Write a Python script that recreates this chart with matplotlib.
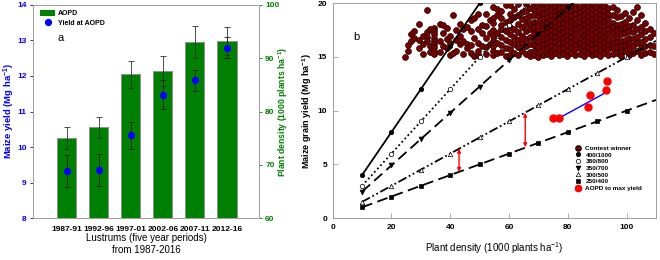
import matplotlib
matplotlib.use("Agg")
import matplotlib.pyplot as plt
from matplotlib.lines import Line2D
from matplotlib.patches import Patch
import numpy as np

plt.rcParams["font.family"] = ["Liberation Sans", "DejaVu Sans"]
plt.rcParams["mathtext.default"] = "regular"

# ── panel a data ──────────────────────────────────────────────────────────────
periods   = ["1987-91", "1992-96", "1997-01", "2002-06", "2007-11", "2012-16"]
aopd      = [75.0, 77.0, 87.0, 87.6, 93.0, 93.2]
aopd_err  = [2.0, 2.0, 2.5, 2.8, 3.0, 2.6]
yield_a   = [9.32, 9.36, 10.33, 11.47, 11.88, 12.80]
yield_err = [0.46, 0.45, 0.38, 0.41, 0.30, 0.30]

# ── panel b data ──────────────────────────────────────────────────────────────
line_names   = ["400/1000", "380/800", "350/700", "300/500", "250/400"]
line_density = [10, 20, 30, 40, 50, 60, 70, 80, 90, 100, 110]
line_yields  = {
    "400/1000": [4.0, 8.0, 12.0, 16.0, 20.0],
    "380/800":  [3.0, 6.0, 9.0, 12.0, 15.0, 18.0, 21.0],
    "350/700":  [2.45, 4.9, 7.35, 9.8, 12.25, 14.7, 17.15, 19.6, 22.05],
    "300/500":  [1.5, 3.0, 4.5, 6.0, 7.5, 9.0, 10.5, 12.0, 13.5, 15.0, 16.5],
    "250/400":  [1.0, 2.0, 3.0, 4.0, 5.0, 6.0, 7.0, 8.0, 9.0, 10.0, 11.0],
}
fit_density = [76.5, 93.5]
fit_yield   = [9.23, 11.77]
gap_density = [43.0, 65.5]
gap_low     = [4.30, 6.60]
gap_high    = [6.45, 9.80]

# contest winners, by density column: yields (Mg/ha)
winner_cols = [
    (24.6, "15.0"), (25.5, "15.6 16.1"), (26.6, "16.5 17.1"), (27.8, "16.8 17.4"),
    (29.5, "18.1 16.6 15.8"), (30.6, "15.3 16.2 17.0"), (32.0, "19.4 17.3 16.9 16.5"),
    (33.2, "15.5 16.0 17.6"), (34.5, "17.7 17.4 17.1 16.8 16.5 16.2 15.9 15.6 15.3"),
    (36.4, "18.1 16.5 15.5"), (37.6, "17.2 16.0 18.0"), (38.8, "17.7 16.7 15.8"),
    (39.8, "17.0 16.3 15.2"), (40.8, "18.9 15.4"), (42.0, "17.5 16.6 15.6"),
    (43.2, "18.1 17.0 16.2"), (44.5, "16.5 15.3 17.6"), (45.6, "17.8 16.2 15.8"),
    (47.0, "17.4 15.4 16.1 18.4"), (48.2, "18.6 16.8 15.1"),
    (49.5, "17.6 16.3 15.2 15.6 19.0"), (50.8, "16.0 17.2 18.0"),
    (52.2, "19.0 17.9 16.8 15.9 15.3"), (53.5, "18.4 17.2 16.2"),
    (54.6, "19.7 18.6 18.2 17.5 17.0 16.5 16.0 15.6 15.2"),
    (56.0, "18.9 17.2 16.3 15.4 19.5"), (57.4, "19.3 18.6 18.0 17.6 16.9 16.1 15.5"),
    (58.8, "18.3 17.4 16.6 15.8 15.1 19.8"),
    (60.2, "19.8 19.0 18.4 17.8 17.1 16.4 15.7 15.2"),
    (61.6, "19.5 18.7 17.6 16.9 16.2 15.4"),
    (63.0, "19.9 18.9 18.1 17.3 16.6 15.9 15.2"),
    (64.4, "19.2 18.5 17.8 17.0 16.3 15.6"),
    (65.8, "19.9 19.3 18.6 18.1 17.4 16.7 16.0 15.3"),
    (67.2, "19.6 18.8 18.2 17.6 16.9 16.2 15.5 15.1"),
    (68.6, "19.9 19.4 18.9 18.3 17.8 17.2 16.7 16.1 15.6 15.2"),
    (70.0, "19.8 19.3 18.8 18.3 17.9 17.4 16.9 16.4 15.9 15.4 15.0"),
    (71.4, "19.9 19.5 19.0 18.5 18.0 17.6 17.1 16.6 16.1 15.7 15.2"),
    (72.8, "19.7 19.2 18.7 18.2 17.8 17.3 16.8 16.3 15.8 15.3"),
    (74.2, "19.9 19.4 18.9 18.4 18.0 17.5 17.0 16.5 16.0 15.5 15.1"),
    (75.6, "19.8 19.3 18.8 18.3 17.8 17.3 16.9 16.4 15.9 15.4"),
    (77.0, "19.9 19.5 19.0 18.5 18.1 17.6 17.1 16.6 16.2 15.7 15.2"),
    (78.4, "19.7 19.2 18.7 18.2 17.7 17.3 16.8 16.3 15.8 15.3"),
    (79.8, "19.9 19.4 18.9 18.5 18.0 17.5 17.0 16.6 16.1 15.6 15.1"),
    (81.2, "19.8 19.3 18.8 18.3 17.9 17.4 16.9 16.4 15.9 15.4"),
    (82.6, "19.9 19.5 19.0 18.5 18.0 17.6 17.1 16.6 16.1 15.7 15.2"),
    (84.0, "19.7 19.2 18.7 18.2 17.8 17.3 16.8 16.3 15.8 15.3"),
    (85.4, "19.9 19.4 18.9 18.4 18.0 17.5 17.0 16.5 16.0 15.5 15.1"),
    (86.8, "19.8 19.3 18.8 18.3 17.8 17.3 16.9 16.4 15.9 15.4"),
    (88.2, "19.9 19.5 19.0 18.5 18.1 17.6 17.1 16.6 16.2 15.7 15.2"),
    (89.6, "19.7 19.2 18.7 18.2 17.7 17.3 16.8 16.3 15.8 15.3"),
    (91.0, "19.9 19.4 18.9 18.5 18.0 17.5 17.0 16.6 16.1 15.6 15.1"),
    (92.4, "19.8 19.3 18.8 18.3 17.9 17.4 16.9 16.4 15.9 15.4"),
    (93.8, "19.6 19.0 18.5 18.0 17.6 17.1 16.6 16.1 15.7 15.2"),
    (95.2, "19.7 18.9 18.2 17.8 17.3 16.8 16.3 15.8 15.3"),
    (96.6, "19.4 18.7 18.0 17.5 17.0 16.4 15.9 15.4"),
    (98.0, "18.8 18.1 17.6 17.1 16.5 16.0 15.5 15.1"),
    (99.4, "19.1 18.3 17.7 17.2 16.6 16.1 15.6"),
    (100.8, "18.6 17.9 17.4 16.8 16.2 15.7 15.2"),
    (102.2, "19.2 18.0 17.3 16.7 16.0 15.4"),
    (103.6, "19.7 18.4 17.6 16.9 16.3 15.6"),
    (105.0, "18.9 17.8 17.1 16.4 15.8 15.2"),
    (106.4, "18.2 17.4 16.7 16.0 15.4"),
    (107.8, "17.6 16.9 16.1 15.5"),
    (109.2, "17.2 16.0 15.3"),
]
winner_density = [d for d, ys in winner_cols for _ in ys.split()]
winner_yield   = [float(v) for _, ys in winner_cols for v in ys.split()]

# ── styles ────────────────────────────────────────────────────────────────────
LINE_STYLE = {
    "400/1000": dict(ls="-",                 marker="o", mfc="black", ms=3.2),
    "380/800":  dict(ls=(0, (1, 1.5)),       marker="o", mfc="white", ms=3.2),
    "350/700":  dict(ls=(0, (6, 3)),         marker="v", mfc="black", ms=3.5),
    "300/500":  dict(ls=(0, (5, 1.5, 1, 1.5, 1, 1.5)), marker="^", mfc="white", ms=3.2),
    "250/400":  dict(ls=(0, (6, 3)),         marker="s", mfc="black", ms=3.0),
}
BLUE, GREEN, DARKRED = "#0000ff", "#008000", "#7a0000"
TICK_KW = dict(labelsize=6, length=2.5, width=0.6, pad=2)

fig = plt.figure(figsize=(6.6, 2.6), dpi=100)

# ── panel a ───────────────────────────────────────────────────────────────────
axb = fig.add_axes([0.050, 0.1615, 0.3424, 0.8193])
axp = axb.twinx()
x = np.arange(len(periods))
axb.bar(x, aopd, width=0.6, color=GREEN, edgecolor="#909090", linewidth=0.7,
        yerr=aopd_err, error_kw=dict(ecolor="#303030", elinewidth=0.6, capsize=2.2, capthick=0.6))
axb.set_ylim(60, 100)
axb.set_xlim(-1.05, 6.0)
axb.yaxis.tick_right()
axb.yaxis.set_label_position("right")
axb.set_yticks([60, 70, 80, 90, 100])
axb.tick_params(axis="y", colors=GREEN, **TICK_KW)
for t in axb.get_yticklabels():
    t.set_fontweight("bold")
axb.set_ylabel("Plant density (1000 plants ha$^{-1}$)", color=GREEN, fontsize=6.2,
               fontweight="bold", va="center")
axb.yaxis.set_label_coords(1.106, 0.5)
axb.set_xticks(x)
axb.set_xticklabels(periods, fontsize=6, fontweight="bold")
axb.tick_params(axis="x", length=0, pad=6)
axb.set_xlabel("Lustrums (five year periods)\nfrom 1987-2016", fontsize=7,
               linespacing=1.15, va="center")
axb.xaxis.set_label_coords(0.5, -0.122)

axp.yaxis.tick_left()
axp.yaxis.set_label_position("left")
axp.errorbar(x, yield_a, yerr=yield_err, fmt="o", color=BLUE, ms=4.2, mec=BLUE,
             ecolor="#202020", elinewidth=0.6, capsize=2.2, capthick=0.6, zorder=3)
axp.set_ylim(8, 14)
axp.set_yticks(range(8, 15))
axp.tick_params(axis="y", colors=BLUE, **TICK_KW)
for t in axp.get_yticklabels():
    t.set_fontweight("bold")
axp.set_ylabel("Maize yield (Mg ha$^{-1}$)", color=BLUE, fontsize=6.8, fontweight="bold",
               va="center")
axp.yaxis.set_label_coords(-0.106, 0.5)
for a in (axb, axp):
    for s in a.spines.values():
        s.set_color("#a0a0a0")
        s.set_linewidth(0.7)
axp.text(0.11, 0.83, "a", transform=axp.transAxes, fontsize=8)
axp.legend(handles=[Patch(facecolor=GREEN, edgecolor="none", label="AOPD"),
                    Line2D([], [], ls="none", marker="o", color=BLUE, ms=4.2, label="Yield at AOPD")],
           loc="upper left", frameon=False, prop=dict(size=5, weight="bold"),
           handlelength=2.2, handleheight=0.9, borderaxespad=0.3, labelspacing=0.35,
           handletextpad=0.4, bbox_to_anchor=(0.01, 1.0))

# ── panel b ───────────────────────────────────────────────────────────────────
ax = fig.add_axes([0.504, 0.1615, 0.490, 0.8258])
ax.scatter(winner_density, winner_yield, s=18, c=DARKRED, edgecolors="#1a0000",
           linewidths=0.5, zorder=2)
for name in line_names:
    ys = line_yields[name]
    st = LINE_STYLE[name]
    ax.plot(line_density[:len(ys)], ys, color="black", lw=1.3, ls=st["ls"],
            marker=st["marker"], mfc=st["mfc"], mec="black", mew=0.5, ms=st["ms"],
            markevery=list(range(min(len(ys), 10))), zorder=3)
ax.plot(fit_density, fit_yield, color=BLUE, lw=1.0, zorder=4)
ax.plot(aopd, yield_a, ls="none", marker="o", color="red", ms=5, zorder=5)
for d, lo, hi in zip(gap_density, gap_low, gap_high):
    ax.annotate("", xy=(d, hi), xytext=(d, lo),
                arrowprops=dict(arrowstyle="<|-|>", color="red", lw=1.0,
                                mutation_scale=5, shrinkA=0, shrinkB=0), zorder=5)
ax.set_xlim(0, 110)
ax.set_ylim(0, 20)
ax.set_xticks([0, 20, 40, 60, 80, 100])
ax.set_yticks([0, 5, 10, 15, 20])
ax.tick_params(colors="#a0a0a0", labelcolor="black", direction="in",
               labelsize=6, length=3.5, width=0.6, pad=4)
for t in ax.get_xticklabels() + ax.get_yticklabels():
    t.set_fontweight("bold")
for s in ax.spines.values():
    s.set_color("#a0a0a0")
    s.set_linewidth(0.7)
ax.set_xlabel("Plant density (1000 plants ha$^{-1}$)", fontsize=7, va="center")
ax.xaxis.set_label_coords(0.5, -0.138)
ax.set_ylabel("Maize grain yield (Mg ha$^{-1}$)", fontsize=6.5, fontweight="bold",
              va="center")
ax.yaxis.set_label_coords(-0.078, 0.5)
ax.text(0.065, 0.83, "b", transform=ax.transAxes, fontsize=8)

handles = [Line2D([], [], ls="none", marker="o", color=DARKRED, mec="#1a0000", ms=3.8,
                  label="Contest winner")]
for name in line_names:
    st = LINE_STYLE[name]
    handles.append(Line2D([], [], ls="none", marker=st["marker"], mfc=st["mfc"],
                          mec="black", mew=0.5, ms=st["ms"], label=name))
handles.append(Line2D([], [], ls="none", marker="o", color="red", ms=4.5,
                      label="AOPD to max yield"))
ax.legend(handles=handles, loc="lower right", frameon=False,
          prop=dict(size=4.6, weight="bold"), handlelength=1.0, labelspacing=0.18,
          handletextpad=0.7, bbox_to_anchor=(0.975, 0.1))

fig.savefig("out.png", dpi=100)
